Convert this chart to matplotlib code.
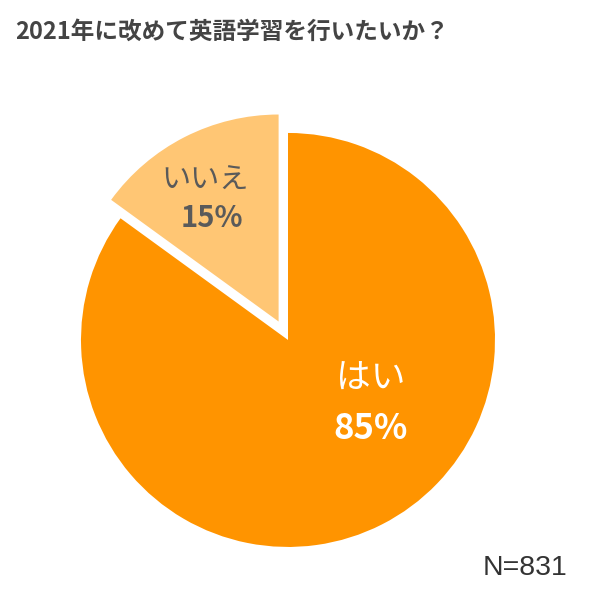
import matplotlib
matplotlib.use("Agg")
import matplotlib.pyplot as plt

plt.rcParams['font.family'] = ['Noto Sans CJK JP', 'DejaVu Sans']

title = "2021年に改めて英語学習を行いたいか？"
labels = ["はい", "いいえ"]
values = [85, 15]
colors = ["#FF9400", "#FFC674"]
explode = [0, 0.1]
n_label = "N=831"

fig = plt.figure(figsize=(6, 5.97), dpi=100)
fig.patch.set_facecolor("white")
ax = fig.add_axes([0.135, 0.0838, 0.69, 0.6935])
wedges, _ = ax.pie(values, colors=colors, explode=explode, startangle=90,
                   counterclock=False, radius=1.0,
                   wedgeprops=dict(linewidth=0))
ax.set_xlim(-1, 1)
ax.set_ylim(-1, 1)
ax.set_aspect('equal')
ax.axis('off')

# labels
ax.text(0.40, -0.19, labels[0], ha='center', va='center', fontsize=25,
        color='white')
ax.text(0.40, -0.43, f"{values[0]}%", ha='center', va='center', fontsize=25,
        color='white', fontweight='bold')
ax.text(-0.40, 0.77, labels[1], ha='center', va='center', fontsize=21,
        color='#5a5a5a')
ax.text(-0.37, 0.59, f"{values[1]}%", ha='center', va='center', fontsize=21,
        color='#5a5a5a', fontweight='bold')

fig.text(0.025, 0.947, title, ha='left', va='center', fontsize=17,
         fontweight='bold', color='#444444')
fig.text(0.945, 0.048, n_label, ha='right', va='center', fontsize=20.5,
         color='#333333', family=['Liberation Sans', 'DejaVu Sans'])

fig.savefig("out.png", dpi=100, facecolor='white')
